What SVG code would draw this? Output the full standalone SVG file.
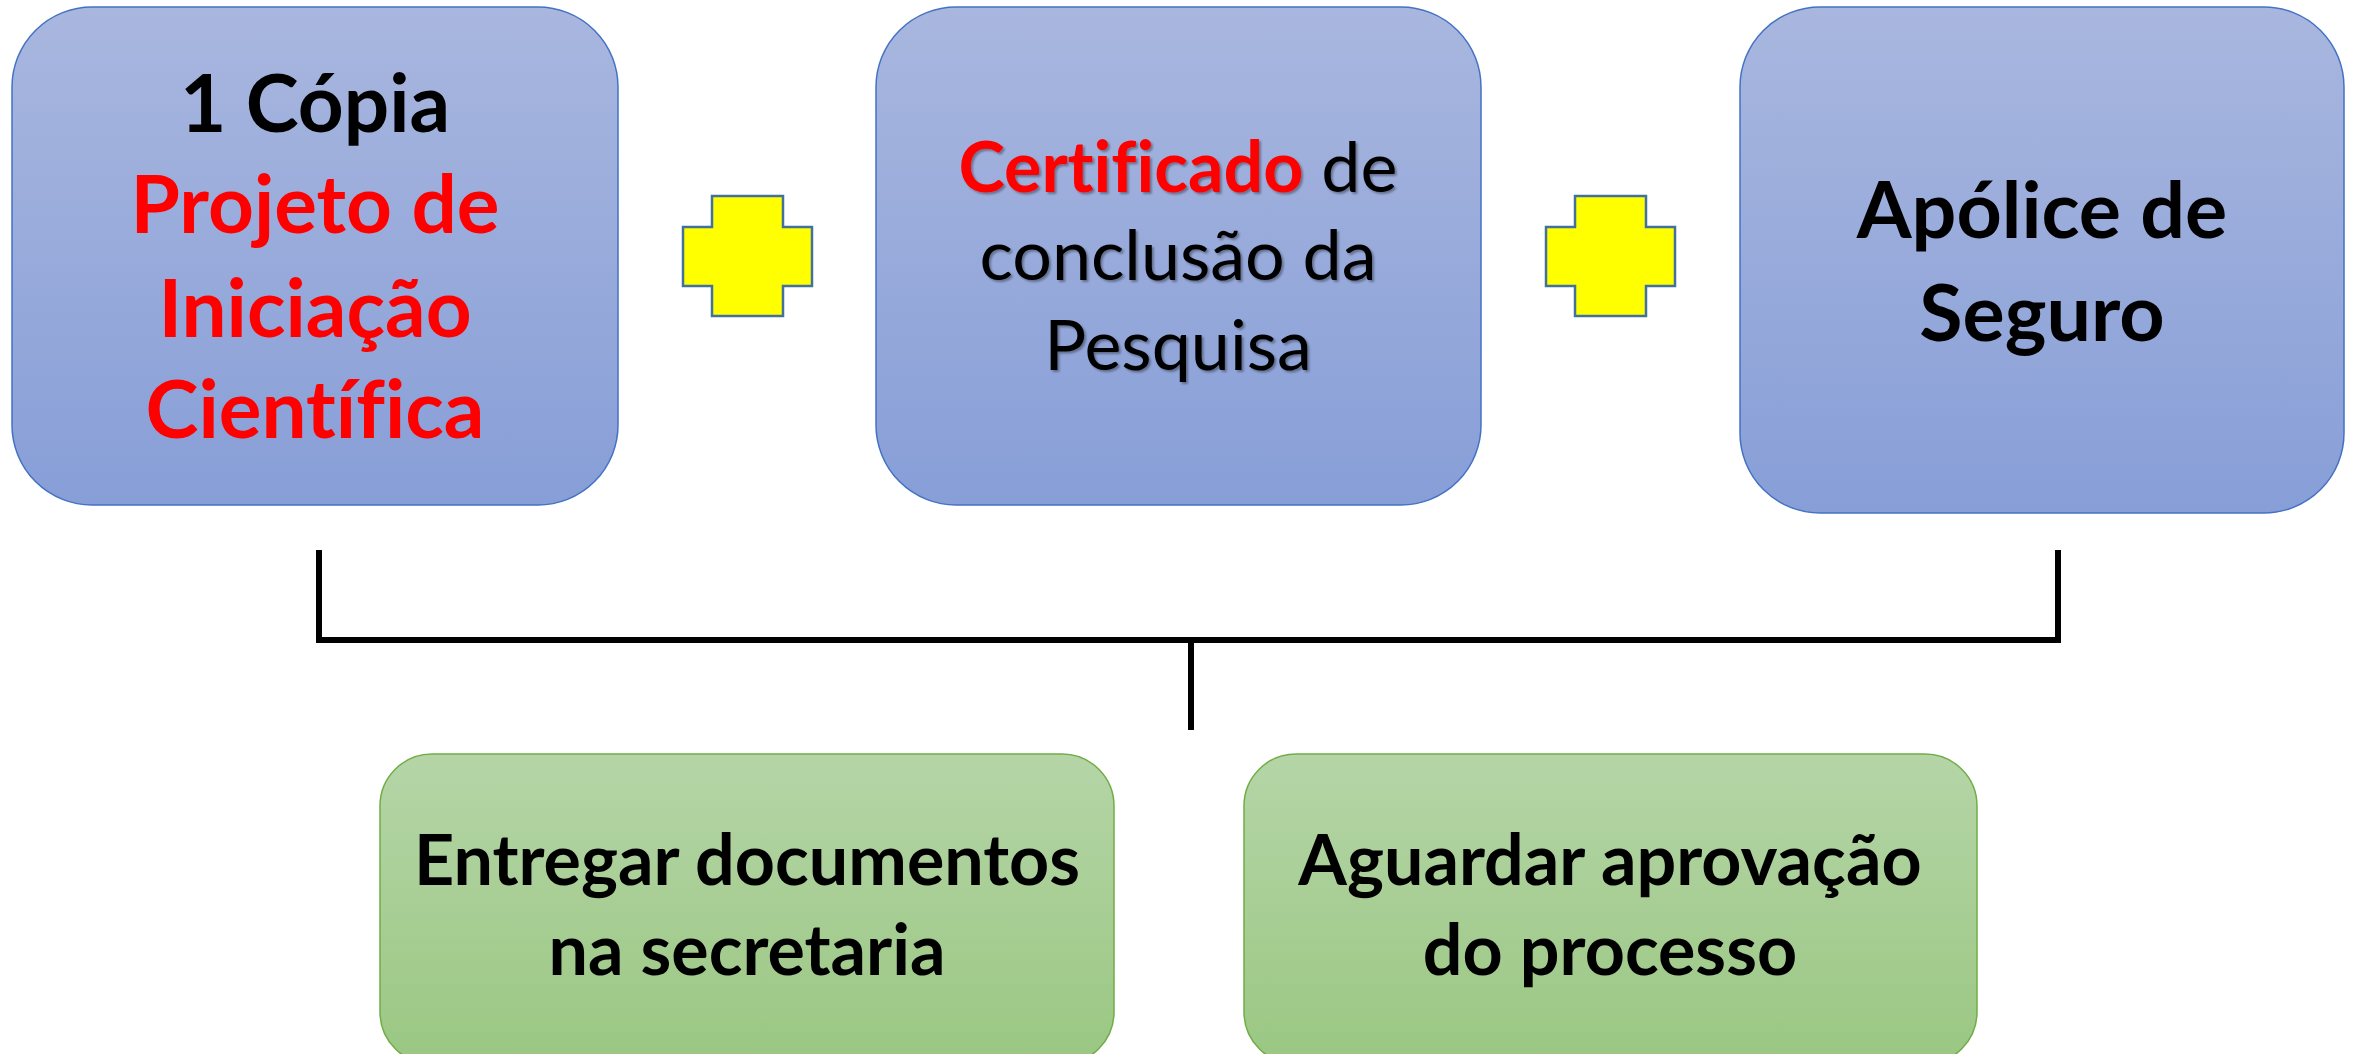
<svg xmlns="http://www.w3.org/2000/svg" width="2357" height="1054" viewBox="0 0 2357 1054">
<defs>
<linearGradient id="gBlue" x1="0" y1="0" x2="0" y2="1">
<stop offset="0" stop-color="#A9B7DF"/>
<stop offset="1" stop-color="#879ED7"/>
</linearGradient>
<linearGradient id="gGreen" x1="0" y1="0" x2="0" y2="1">
<stop offset="0" stop-color="#B5D5A7"/>
<stop offset="1" stop-color="#9AC782"/>
</linearGradient>
<filter id="shadow" x="-10%" y="-10%" width="120%" height="130%">
<feDropShadow dx="2" dy="2" stdDeviation="1.2" flood-color="#000" flood-opacity="0.35"/>
</filter>
</defs>
<style>
.blue{fill:url(#gBlue);stroke:#4472C4;stroke-width:1.5}
.green{fill:url(#gGreen);stroke:#70AD47;stroke-width:1.5}
.plus{fill:#FFFF00;stroke:#41719C;stroke-width:2.5}
.conn{fill:none;stroke:#000;stroke-width:6}
text{font-family:Lato,"Open Sans","Liberation Sans",sans-serif;text-anchor:middle;font-variant-ligatures:none;font-feature-settings:"liga" 0}
.b{font-weight:bold}
.red{fill:#FF0000}
.blk{fill:#000}
</style>
<rect width="2357" height="1054" fill="#fff"/>
<g id="box1">
<rect class="blue" x="12" y="7" width="606" height="498" rx="80" ry="80"/>
<text class="b blk" x="315" y="132" font-size="80">1 Cópia</text>
<text class="b red" x="315" y="233" font-size="80">Projeto de</text>
<text class="b red" x="315" y="337" font-size="80">Iniciação</text>
<text class="b red" x="315" y="438" font-size="80">Científica</text>
</g>
<g id="plus1">
<path class="plus" d="M712,196 H783 V227 H812 V286 H783 V316 H712 V286 H683 V227 H712 Z"/>
</g>
<g id="box2">
<rect class="blue" x="876" y="7" width="605" height="498" rx="80" ry="80"/>
<text x="1178" y="192" font-size="70" filter="url(#shadow)"><tspan class="b red">Certificado</tspan><tspan class="blk"> de</tspan></text>
<text class="blk" x="1178" y="280" font-size="70" filter="url(#shadow)">conclusão da</text>
<text class="blk" x="1178" y="370" font-size="70" filter="url(#shadow)">Pesquisa</text>
</g>
<g id="plus2">
<path class="plus" d="M1575,196 H1646 V227 H1675 V286 H1646 V316 H1575 V286 H1546 V227 H1575 Z"/>
</g>
<g id="box3">
<rect class="blue" x="1740" y="7" width="604" height="506" rx="80" ry="80"/>
<text class="b blk" x="2042" y="238" font-size="79">Apólice de</text>
<text class="b blk" x="2042" y="341" font-size="79">Seguro</text>
</g>
<g id="connectors">
<path class="conn" d="M319,550 V640 H2058 V550"/>
<path class="conn" d="M1191,640 V730"/>
</g>
<g id="step1">
<rect class="green" x="380" y="754" width="734" height="310" rx="52" ry="52"/>
<text class="b blk" x="747" y="885" font-size="70">Entregar documentos</text>
<text class="b blk" x="747" y="975" font-size="70">na secretaria</text>
</g>
<g id="step2">
<rect class="green" x="1244" y="754" width="733" height="310" rx="52" ry="52"/>
<text class="b blk" x="1610" y="885" font-size="70">Aguardar aprovação</text>
<text class="b blk" x="1610" y="975" font-size="70">do processo</text>
</g>
</svg>
